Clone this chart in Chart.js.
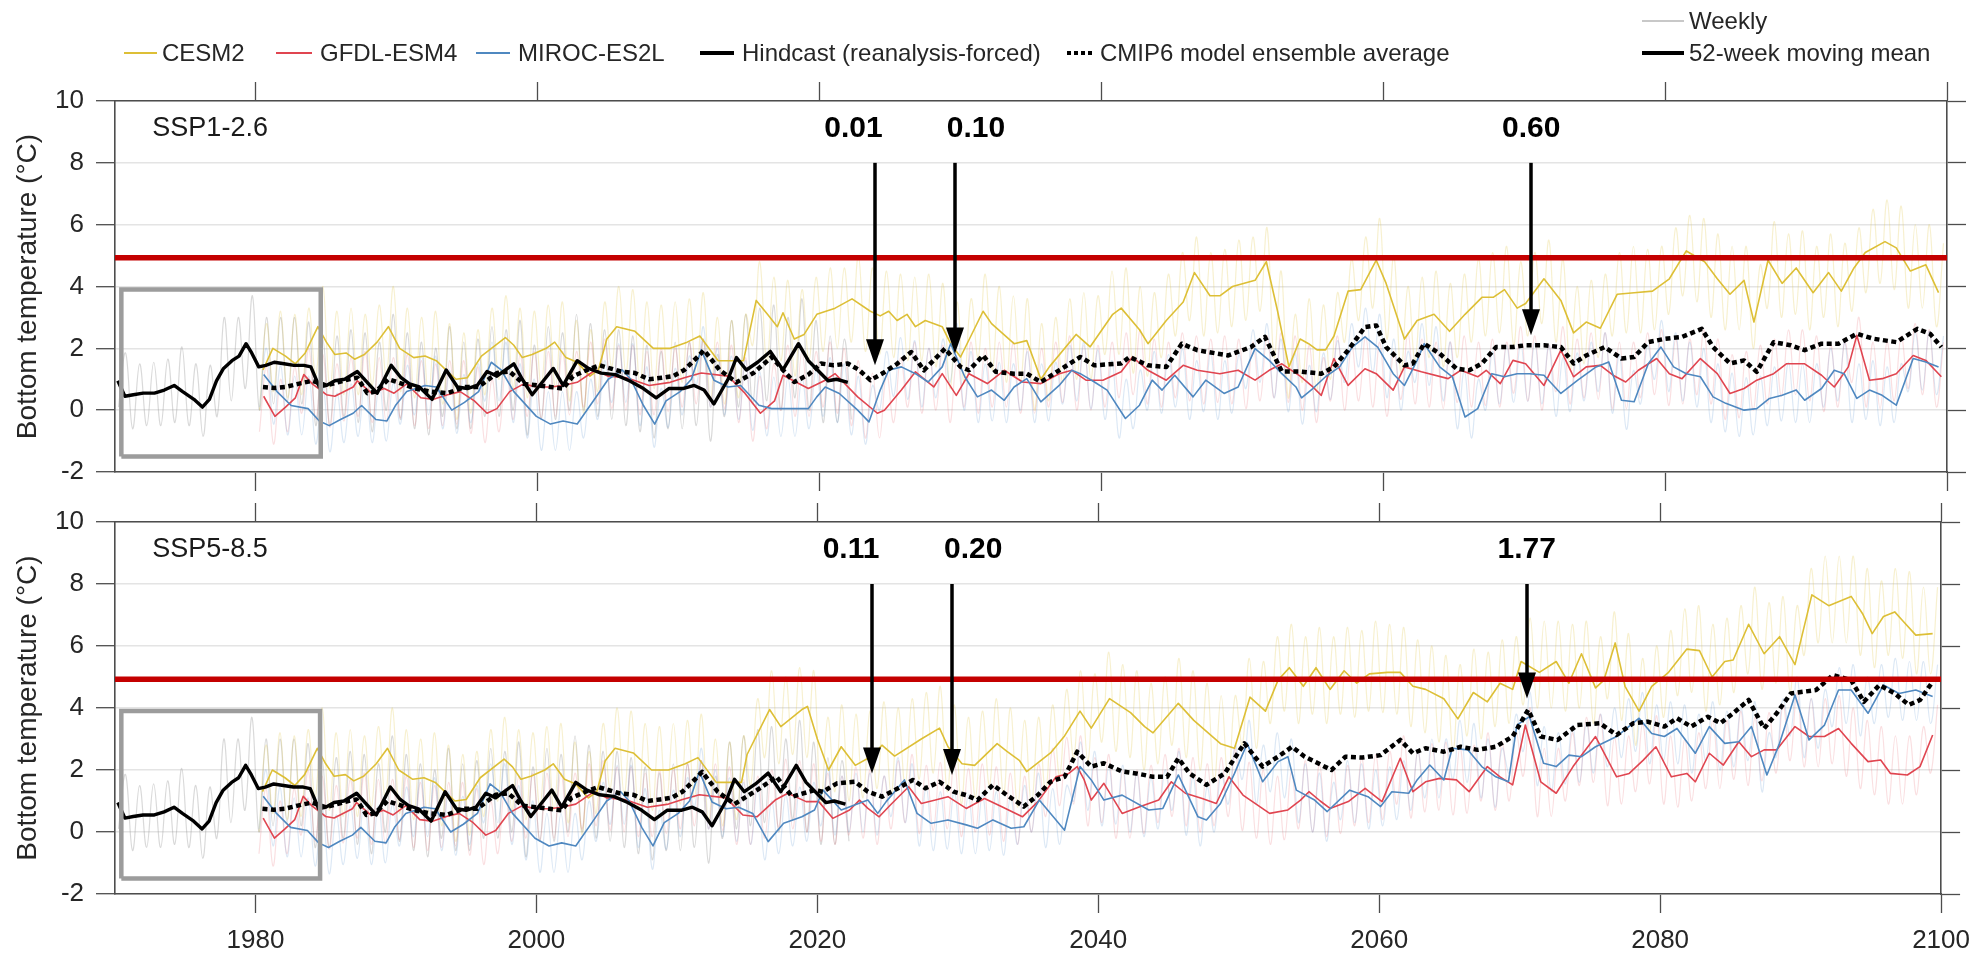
<!DOCTYPE html>
<html><head><meta charset="utf-8">
<script src="https://cdn.jsdelivr.net/npm/chart.js@4.4.1/dist/chart.umd.min.js"></script>
<style>
html,body{margin:0;padding:0;background:#fff;}
#wrap{position:relative;width:1982px;height:954px;overflow:hidden;font-family:'Liberation Sans',Arial,sans-serif;color:#262626;}
canvas{position:absolute;left:0;top:0;}
.lg{position:absolute;font-size:24px;line-height:28px;white-space:nowrap;}
.ln{position:absolute;}
</style></head><body><div id="wrap">
<canvas id="c1" width="1982" height="954"></canvas>
<canvas id="c2" width="1982" height="954"></canvas>
<div class="ln" style="left:124px;top:52px;width:33px;height:2px;background:#DDBF36"></div><div class="lg" style="left:162px;top:39px">CESM2</div>
<div class="ln" style="left:276px;top:52px;width:36px;height:2px;background:#E04550"></div><div class="lg" style="left:320px;top:39px">GFDL-ESM4</div>
<div class="ln" style="left:476px;top:52px;width:34px;height:2px;background:#4F88C0"></div><div class="lg" style="left:518px;top:39px">MIROC-ES2L</div>
<div class="ln" style="left:700px;top:51px;width:34px;height:4px;background:#000"></div><div class="lg" style="left:742px;top:39px">Hindcast (reanalysis-forced)</div>
<div class="ln" style="left:1067px;top:51px;width:28px;height:4px;background:repeating-linear-gradient(90deg,#000 0 4px,transparent 4px 7px)"></div><div class="lg" style="left:1100px;top:39px">CMIP6 model ensemble average</div>
<div class="ln" style="left:1642px;top:20px;width:42px;height:1.5px;background:#c8c8c8"></div><div class="lg" style="left:1689px;top:7px">Weekly</div>
<div class="ln" style="left:1642px;top:51px;width:42px;height:4px;background:#000"></div><div class="lg" style="left:1689px;top:39px">52-week moving mean</div>
</div>
<script>
// ---------------- DATA ----------------
const xTickValues = [1980, 2000, 2020, 2040, 2060, 2080, 2100];
const yTickValues = [-2, 0, 2, 4, 6, 8, 10];
const panelNames = ['SSP1-2.6', 'SSP5-8.5'];
const thresholdValue = 4.93;
const boxYears = [1970.45, 1984.6];
const boxValues = [-1.5, 3.9];
const arrowYears = [2023.9, 2029.6, 2070.5];
const labelYears = [2022.4, 2031.1, 2070.5];
const arrowTop = 8.0;
const labelValue = 9.1;
const tips126 = [1.45, 1.83, 2.42];
const tips585 = [1.89, 1.84, 4.31];
const labels126 = ['0.01', '0.10', '0.60'];
const labels585 = ['0.11', '0.20', '1.77'];

// Hindcast 52-week moving mean [year, value]
const hindMean = [[1970.2,0.95],[1970.7,0.45],[1971.3,0.5],[1972.0,0.55],[1972.8,0.55],[1973.5,0.65],[1974.2,0.8],[1974.8,0.6],[1975.6,0.35],[1976.2,0.1],[1976.7,0.35],[1977.2,0.95],[1977.7,1.35],[1978.3,1.6],[1978.8,1.75],[1979.3,2.15],[1979.7,1.85],[1980.2,1.4],[1980.7,1.45],[1981.3,1.55],[1982.0,1.5],[1982.7,1.45],[1983.4,1.45],[1983.9,1.4],[1984.5,0.75],[1985.0,0.8],[1985.6,0.95],[1986.3,1.0],[1987.2,1.25],[1987.8,0.95],[1988.6,0.55],[1989.6,1.45],[1990.3,1.05],[1990.9,0.85],[1991.6,0.75],[1992.5,0.35],[1993.5,1.3],[1994.3,0.75],[1995.0,0.7],[1995.7,0.8],[1996.4,1.25],[1997.1,1.1],[1998.3,1.5],[1998.9,1.0],[1999.6,0.5],[2000.4,0.95],[2001.1,1.35],[2001.8,0.8],[2002.8,1.6],[2003.6,1.35],[2004.5,1.2],[2005.5,1.15],[2006.5,0.95],[2007.5,0.7],[2008.4,0.4],[2009.3,0.7],[2010.3,0.7],[2011.1,0.8],[2011.8,0.65],[2012.5,0.2],[2013.5,1.0],[2014.1,1.7],[2014.8,1.3],[2015.6,1.55],[2016.5,1.9],[2017.4,1.3],[2018.5,2.15],[2019.2,1.6],[2020.6,0.95],[2021.2,1.0],[2022.0,0.9]];
// Hindcast weekly: seasonal lows (year+0.25) and highs (year+0.75), from 1970
const hindWeeklyLo = [0.1,-0.6,-0.5,-0.5,-0.4,-0.5,-0.85,-0.2,0.3,0.7, 0.0,0.2,0.3,0.2,-0.5,-0.5,-0.2,-0.4,-0.7,0.0, -0.3,-0.6,-0.8,-0.2,-0.6,-0.6,-0.2,-0.2,0.0,-0.8, -0.3,-0.3,0.0,0.0,-0.2,-0.3,-0.5,-0.7,-0.9,-0.6, -0.6,-0.5,-1.0,-0.2,0.1,0.2,0.3,0.0,0.4,0.0, -0.4,-0.4,-0.3];
const hindWeeklyHi = [1.85,1.5,1.55,1.65,2.05,1.5,1.45,3.0,3.0,3.7, 3.0,3.0,3.0,2.85,2.3,2.4,2.6,2.5,2.2,3.1, 2.5,2.2,2.0,2.7,2.2,2.3,2.7,2.6,2.9,2.1, 2.7,2.5,3.1,2.8,2.6,2.6,2.4,2.1,1.9,2.2, 2.2,2.3,1.8,2.9,3.1,3.3,3.4,3.0,3.6,2.9, 2.4,2.3];

// Historical (shared) moving means
const cesmHist = [[1980.5,1.3],[1981.2,2.0],[1982.1,1.75],[1982.8,1.5],[1983.5,1.85],[1984.4,2.7],[1985.0,2.2],[1985.6,1.8],[1986.4,1.85],[1987.0,1.65],[1987.7,1.8],[1988.6,2.2],[1989.4,2.7],[1990.2,2.0],[1991.2,1.7],[1992.0,1.75],[1992.8,1.6],[1993.6,1.25],[1994.2,1.0],[1995.0,1.05],[1996.0,1.75],[1997.7,2.35],[1998.3,2.1],[1998.9,1.7],[1999.6,1.8],[2000.6,2.0],[2001.2,2.2],[2002.0,1.7],[2002.8,1.55],[2003.7,1.1],[2004.3,1.3],[2004.9,2.3],[2005.6,2.7],[2006.9,2.55],[2008.2,2.0],[2009.4,2.0],[2010.6,2.2],[2011.5,2.4],[2012.8,1.6],[2014.6,1.6]];
const gfdlHist = [[1980.55,0.45],[1981.35,-0.2],[1982.1,0.1],[1982.8,0.4],[1983.4,1.15],[1984.0,0.85],[1985.0,0.5],[1985.6,0.45],[1986.9,0.75],[1987.2,0.95],[1988.2,0.55],[1989.1,0.7],[1989.8,0.55],[1990.7,0.85],[1991.7,0.4],[1992.6,0.35],[1993.6,0.5],[1994.5,0.6],[1995.5,0.3],[1996.4,-0.1],[1997.1,0.05],[1998.0,0.6],[1999.0,0.85],[1999.9,0.75],[2000.9,0.75],[2001.8,0.8],[2002.8,0.9],[2004.1,1.3],[2005.0,1.1],[2006.3,1.05],[2007.9,0.8],[2009.4,0.9],[2010.4,1.05],[2011.6,1.2],[2013.5,1.1],[2014.7,0.55]];
const mirocHist = [[1980.55,1.15],[1981.5,0.6],[1982.5,0.15],[1983.7,0.05],[1984.5,-0.35],[1985.2,-0.5],[1986.0,-0.3],[1986.9,-0.1],[1987.5,0.15],[1988.5,-0.3],[1989.3,-0.35],[1989.9,0.15],[1990.7,0.6],[1992.0,0.8],[1992.8,0.75],[1993.9,0.0],[1994.8,0.25],[1995.8,0.6],[1996.7,1.55],[1997.4,1.3],[1998.3,0.6],[1999.9,-0.2],[2000.9,-0.45],[2001.8,-0.35],[2002.8,-0.45],[2004.1,0.4],[2005.0,1.0],[2006.0,1.3],[2006.6,1.0],[2007.5,0.15],[2008.3,-0.45],[2009.1,0.3],[2010.1,0.6],[2010.9,1.0],[2011.6,1.95],[2012.5,0.97],[2013.5,0.75],[2014.4,0.8]];
const ensHist = [[1980.5,0.75],[1981.3,0.72],[1982.1,0.75],[1983.0,0.85],[1984.0,0.95],[1985.0,0.8],[1985.8,0.9],[1986.6,1.0],[1987.2,1.05],[1987.9,0.55],[1988.5,0.6],[1989.4,1.0],[1990.4,0.85],[1991.3,0.7],[1992.4,0.6],[1993.6,0.55],[1994.8,0.75],[1995.8,0.75],[1997.1,1.2],[1998.0,1.25],[1999.0,0.85],[2000.0,0.8],[2000.9,0.75],[2001.8,0.7],[2002.5,1.1],[2003.5,1.3],[2004.4,1.45],[2005.9,1.25],[2006.9,1.2],[2007.9,1.0],[2008.8,1.05],[2009.6,1.1],[2010.4,1.3],[2011.4,1.75],[2011.8,1.94],[2012.9,1.3],[2014.1,0.9]];

// SSP1-2.6 moving means
const cesm126 = [[2015.5,3.55],[2016.3,3.1],[2017.0,2.7],[2017.4,3.15],[2018.2,2.3],[2018.9,2.45],[2019.8,3.1],[2021.1,3.3],[2022.3,3.6],[2023.6,3.2],[2024.3,3.05],[2024.9,3.2],[2025.5,2.9],[2026.2,3.1],[2026.8,2.7],[2027.5,2.9],[2028.7,2.7],[2029.3,2.15],[2030.0,1.72],[2031.6,3.2],[2032.2,2.8],[2033.8,2.15],[2034.7,2.25],[2035.7,1.0],[2036.3,1.4],[2038.2,2.45],[2039.2,2.05],[2040.8,3.1],[2041.4,3.3],[2042.7,2.6],[2043.3,2.15],[2044.6,2.9],[2045.8,3.5],[2046.6,4.45],[2047.7,3.7],[2048.4,3.7],[2049.3,4.0],[2050.9,4.2],[2051.7,4.8],[2052.5,3.2],[2053.3,1.4],[2054.1,2.3],[2054.7,2.15],[2055.3,1.95],[2055.9,1.95],[2056.5,2.4],[2057.5,3.85],[2058.4,3.9],[2059.5,4.85],[2060.2,4.1],[2061.5,2.3],[2062.4,2.9],[2063.6,3.1],[2064.7,2.55],[2065.8,3.1],[2067.0,3.65],[2067.8,3.65],[2068.6,3.9],[2069.5,3.3],[2070.1,3.45],[2071.4,4.25],[2072.6,3.55],[2073.5,2.5],[2074.4,2.85],[2075.4,2.65],[2076.6,3.75],[2077.8,3.8],[2079.1,3.85],[2080.3,4.25],[2081.5,5.15],[2082.8,4.8],[2083.7,4.25],[2084.6,3.75],[2085.6,4.2],[2086.3,2.85],[2087.3,4.85],[2088.3,4.1],[2089.3,4.6],[2090.5,3.8],[2091.6,4.45],[2092.5,3.85],[2093.4,4.6],[2094.2,5.1],[2095.6,5.45],[2096.4,5.25],[2097.4,4.5],[2098.5,4.7],[2099.4,3.8]];
const gfdl126 = [[2015.8,-0.1],[2016.8,0.3],[2017.4,1.13],[2019.2,0.7],[2020.4,0.97],[2021.1,1.18],[2022.7,0.43],[2024.1,-0.1],[2024.6,0.0],[2025.8,0.65],[2026.8,1.24],[2028.1,0.75],[2028.7,1.18],[2029.7,0.48],[2030.6,1.18],[2031.9,0.86],[2033.1,1.29],[2034.4,0.91],[2035.7,0.86],[2037.0,1.18],[2037.9,1.29],[2038.9,0.97],[2040.1,0.97],[2041.4,1.24],[2042.2,1.72],[2043.3,1.29],[2044.6,0.97],[2045.8,1.45],[2046.8,1.29],[2048.4,1.18],[2049.7,1.29],[2050.9,0.97],[2051.9,1.29],[2052.8,1.5],[2054.1,1.1],[2055.0,0.75],[2055.6,0.48],[2056.5,1.67],[2057.5,0.8],[2058.7,1.34],[2059.5,1.18],[2060.7,0.65],[2061.5,1.4],[2062.7,1.24],[2064.6,1.02],[2065.5,1.29],[2066.7,1.08],[2067.3,1.29],[2068.3,0.86],[2069.2,1.61],[2070.1,1.5],[2071.4,0.8],[2072.6,1.94],[2073.5,1.08],[2074.4,1.4],[2075.4,1.45],[2076.3,1.13],[2077.2,0.91],[2078.1,1.29],[2079.4,1.67],[2080.3,1.18],[2081.2,1.02],[2082.5,1.67],[2083.7,1.18],[2084.6,0.54],[2085.6,0.7],[2086.5,0.97],[2087.7,1.18],[2088.6,1.5],[2089.9,1.5],[2091.1,1.13],[2092.0,0.75],[2093.0,1.4],[2093.6,2.42],[2094.5,0.97],[2095.4,1.02],[2096.4,1.18],[2097.6,1.77],[2098.5,1.61],[2099.6,1.08]];
const miroc126 = [[2015.7,0.16],[2016.6,0.05],[2017.9,0.05],[2019.2,0.05],[2019.8,0.43],[2020.4,0.75],[2021.4,0.54],[2022.7,0.0],[2023.5,-0.38],[2024.3,0.65],[2024.9,1.29],[2025.8,1.4],[2026.8,1.18],[2027.7,0.91],[2028.7,1.4],[2029.3,2.15],[2030.3,1.08],[2031.2,0.43],[2032.2,0.65],[2033.1,0.32],[2033.8,0.75],[2034.7,1.02],[2035.7,0.27],[2037.0,0.8],[2037.9,1.29],[2038.5,1.18],[2039.5,0.91],[2040.4,0.65],[2041.7,-0.27],[2042.7,0.16],[2043.6,0.97],[2044.3,0.65],[2045.2,1.13],[2046.5,0.43],[2047.4,0.97],[2048.7,0.54],[2049.7,0.75],[2050.9,1.99],[2051.9,1.61],[2052.8,1.18],[2053.8,0.75],[2054.2,0.4],[2055.0,0.7],[2055.9,1.08],[2056.9,1.4],[2057.8,2.04],[2058.7,2.37],[2059.6,2.04],[2060.7,1.18],[2061.5,0.8],[2062.4,1.61],[2062.9,2.15],[2064.0,1.4],[2064.9,1.08],[2065.8,-0.22],[2066.7,0.05],[2067.7,1.18],[2068.6,1.08],[2069.5,1.18],[2070.4,1.18],[2071.4,1.13],[2072.6,0.54],[2073.8,0.97],[2075.1,1.4],[2076.0,1.56],[2076.9,0.32],[2077.8,0.27],[2078.8,1.5],[2079.7,2.04],[2080.6,1.4],[2081.5,1.18],[2082.5,1.08],[2083.4,0.43],[2084.3,0.22],[2085.6,0.0],[2086.5,0.05],[2087.4,0.38],[2088.3,0.48],[2089.3,0.65],[2089.9,0.32],[2091.1,0.7],[2092.0,1.29],[2092.7,1.18],[2093.6,0.38],[2094.5,0.65],[2095.4,0.48],[2096.4,0.16],[2097.6,1.67],[2098.5,1.56],[2099.4,1.4]];
const ens126 = [[2015.3,1.2],[2016.6,1.72],[2017.4,1.3],[2018.2,0.91],[2019.2,1.15],[2020.1,1.51],[2021.0,1.45],[2022.0,1.51],[2022.8,1.3],[2023.6,0.97],[2024.5,1.2],[2025.5,1.5],[2026.5,1.88],[2027.4,1.29],[2028.9,1.99],[2030.0,1.4],[2030.6,1.29],[2031.6,1.77],[2032.5,1.24],[2033.8,1.18],[2034.7,1.18],[2035.7,0.91],[2037.0,1.29],[2038.5,1.72],[2039.5,1.45],[2041.4,1.51],[2042.0,1.72],[2043.3,1.45],[2044.6,1.4],[2045.7,2.15],[2046.8,1.94],[2049.0,1.77],[2050.6,2.04],[2051.6,2.37],[2052.8,1.25],[2054.1,1.25],[2055.6,1.18],[2056.5,1.4],[2057.5,1.94],[2058.7,2.69],[2059.5,2.74],[2060.2,2.04],[2061.5,1.45],[2062.1,1.51],[2062.9,2.15],[2064.0,1.83],[2065.2,1.34],[2066.1,1.29],[2067.0,1.51],[2068.0,2.04],[2069.2,2.04],[2070.1,2.1],[2071.4,2.1],[2072.6,2.04],[2073.5,1.51],[2074.4,1.77],[2075.7,2.04],[2076.9,1.67],[2077.8,1.72],[2078.8,2.2],[2080.0,2.31],[2081.2,2.37],[2082.6,2.63],[2083.4,2.04],[2084.6,1.51],[2085.6,1.61],[2086.5,1.24],[2087.7,2.2],[2088.9,2.1],[2089.9,1.94],[2091.1,2.15],[2092.3,2.15],[2093.6,2.47],[2094.8,2.31],[2096.4,2.2],[2097.9,2.63],[2098.8,2.47],[2099.6,2.04]];

// SSP5-8.5 moving means
const cesm585 = [[2015.0,2.5],[2016.6,3.95],[2017.4,3.4],[2018.9,3.95],[2019.3,4.05],[2020.0,3.0],[2020.8,2.0],[2021.7,2.75],[2022.7,2.15],[2023.9,2.45],[2024.6,2.8],[2025.5,2.45],[2027.4,3.0],[2028.7,3.35],[2029.3,2.75],[2030.3,2.2],[2031.2,2.15],[2032.8,2.85],[2033.5,2.6],[2034.4,2.3],[2034.9,1.95],[2036.6,2.55],[2037.6,3.1],[2038.7,3.9],[2039.5,3.35],[2040.8,4.3],[2042.3,3.85],[2043.3,3.4],[2043.9,3.2],[2045.7,4.15],[2046.8,3.6],[2048.7,2.85],[2049.7,2.7],[2050.8,4.35],[2051.9,3.9],[2052.8,4.9],[2053.6,5.3],[2054.6,4.7],[2055.5,5.3],[2056.5,4.6],[2057.5,5.2],[2058.4,4.8],[2059.3,5.1],[2060.6,5.15],[2061.5,5.15],[2062.4,4.7],[2063.3,4.6],[2064.6,4.3],[2065.6,3.65],[2066.7,4.5],[2067.7,4.2],[2068.6,4.8],[2069.5,4.6],[2070.1,5.5],[2071.4,5.15],[2072.6,5.5],[2073.5,4.8],[2074.4,5.75],[2075.4,4.65],[2076.0,4.9],[2076.8,6.1],[2077.5,4.7],[2078.5,3.9],[2079.4,4.7],[2080.6,5.15],[2081.9,5.9],[2082.8,5.85],[2083.7,5.0],[2084.6,5.5],[2085.2,5.55],[2086.3,6.7],[2087.4,5.75],[2088.5,6.3],[2089.6,5.4],[2090.8,7.65],[2092.0,7.3],[2093.6,7.6],[2094.4,7.05],[2095.1,6.4],[2095.9,6.95],[2096.7,7.1],[2097.3,6.8],[2098.2,6.35],[2099.4,6.4]];
const gfdl585 = [[2015.7,0.49],[2017.0,1.03],[2017.9,1.25],[2019.2,0.98],[2020.1,0.98],[2021.1,0.44],[2022.3,0.71],[2023.0,1.03],[2023.6,0.76],[2024.4,0.49],[2025.2,0.87],[2026.5,1.46],[2027.4,0.92],[2028.4,1.03],[2029.3,1.14],[2030.6,0.76],[2031.9,1.08],[2033.1,0.82],[2034.6,0.49],[2035.7,0.98],[2037.0,1.78],[2037.9,1.89],[2038.5,2.11],[2039.0,1.68],[2039.5,1.03],[2040.4,1.57],[2041.7,0.6],[2043.0,0.82],[2044.3,1.03],[2045.2,1.62],[2046.2,1.25],[2047.4,1.08],[2048.4,0.92],[2049.3,1.78],[2050.3,1.19],[2052.2,0.6],[2053.5,0.71],[2054.4,1.03],[2055.0,1.3],[2055.8,1.0],[2056.5,0.76],[2057.8,0.98],[2059.0,1.41],[2060.2,0.98],[2061.5,2.38],[2062.4,1.3],[2063.3,1.62],[2064.3,1.73],[2065.5,1.68],[2066.4,1.3],[2067.7,2.11],[2068.6,1.78],[2069.5,1.52],[2070.4,3.45],[2071.5,1.62],[2072.6,1.25],[2073.8,2.11],[2075.4,3.08],[2076.9,1.78],[2077.8,1.89],[2078.8,2.32],[2079.7,2.75],[2080.8,1.78],[2081.9,1.89],[2082.5,1.62],[2083.5,2.54],[2084.5,2.16],[2085.6,2.91],[2086.5,2.43],[2087.4,2.65],[2088.3,2.65],[2089.6,3.4],[2090.6,3.08],[2091.7,3.08],[2092.7,3.34],[2093.6,2.86],[2094.8,2.27],[2095.7,2.32],[2096.4,1.89],[2097.6,1.84],[2098.5,2.11],[2099.4,3.13]];
const miroc585 = [[2015.4,0.6],[2016.5,-0.31],[2017.6,0.28],[2018.9,0.49],[2019.8,0.71],[2020.4,1.35],[2021.7,0.71],[2023.6,1.03],[2024.3,0.6],[2024.9,0.98],[2026.2,1.68],[2027.1,0.6],[2028.1,0.28],[2029.3,0.39],[2030.6,0.23],[2031.4,0.12],[2032.5,0.39],[2033.8,0.12],[2034.7,0.17],[2035.8,1.03],[2037.6,0.06],[2038.7,2.11],[2039.5,1.68],[2040.4,1.03],[2041.7,1.19],[2043.6,0.71],[2044.6,0.76],[2045.7,1.84],[2047.1,0.49],[2047.7,0.39],[2048.7,0.92],[2049.7,1.89],[2050.6,2.86],[2051.7,1.62],[2052.8,2.27],[2053.5,2.43],[2054.1,1.35],[2055.4,1.03],[2056.3,0.66],[2057.9,1.35],[2059.2,1.14],[2060.1,0.82],[2060.9,1.3],[2062.1,1.25],[2062.7,1.68],[2063.6,2.16],[2064.6,1.68],[2065.2,2.7],[2066.3,2.65],[2067.3,2.11],[2068.3,1.78],[2069.2,1.62],[2069.8,3.45],[2070.7,3.72],[2071.7,2.22],[2072.6,2.11],[2073.5,2.48],[2074.4,2.43],[2075.4,2.75],[2076.9,3.08],[2078.5,3.67],[2079.4,3.18],[2080.3,3.08],[2081.2,3.34],[2082.5,2.54],[2083.5,3.4],[2084.6,2.86],[2085.6,2.91],[2086.5,3.4],[2087.6,1.84],[2088.5,2.86],[2089.6,4.42],[2090.6,2.97],[2091.7,3.45],[2092.7,4.58],[2093.6,4.58],[2094.8,3.83],[2095.9,4.74],[2097.0,4.47],[2098.2,4.58],[2099.4,4.37]];
const ens585 = [[2015.7,1.35],[2017.1,1.78],[2018.2,1.14],[2019.8,1.35],[2020.4,1.3],[2021.4,1.57],[2022.7,1.62],[2023.6,1.3],[2024.6,1.14],[2025.5,1.35],[2026.8,1.68],[2027.7,1.41],[2028.7,1.62],[2029.7,1.3],[2030.6,1.19],[2031.4,1.03],[2032.5,1.52],[2033.5,1.19],[2034.7,0.82],[2035.7,1.19],[2036.6,1.62],[2037.6,1.78],[2038.5,2.59],[2039.5,2.11],[2040.4,2.22],[2041.7,1.95],[2042.7,1.89],[2043.9,1.78],[2044.9,1.78],[2045.7,2.38],[2046.5,1.89],[2047.7,1.52],[2049.0,1.89],[2050.4,2.86],[2051.7,2.11],[2052.8,2.43],[2053.8,2.75],[2054.7,2.43],[2056.6,2.0],[2057.6,2.43],[2058.8,2.4],[2060.1,2.48],[2061.5,2.97],[2062.4,2.54],[2063.3,2.7],[2064.6,2.59],[2065.8,2.75],[2067.0,2.65],[2068.3,2.75],[2069.5,3.08],[2070.6,3.94],[2071.5,3.08],[2072.7,2.97],[2074.1,3.45],[2075.7,3.51],[2076.9,3.13],[2078.1,3.51],[2079.1,3.56],[2080.3,3.4],[2081.2,3.67],[2082.2,3.4],[2083.4,3.72],[2084.3,3.51],[2085.2,3.83],[2086.3,4.26],[2087.4,3.34],[2088.3,3.83],[2089.3,4.47],[2091.1,4.58],[2092.3,5.06],[2093.6,4.9],[2094.5,4.2],[2095.6,4.74],[2096.7,4.47],[2097.7,4.1],[2098.5,4.26],[2099.4,4.85]];

// Weekly model series: seasonal lows (year+0.25) and highs (year+0.75); historical 1980-2014
const cesmHistLo = [0.0,0.6,0.4,0.5,1.1,0.7,0.5,0.5,0.8,1.1, 0.6,0.4,0.5,0.2,-0.3,-0.1,0.5,1.0,0.7,0.4, 0.8,0.7,0.3,-0.1,0.6,1.4,1.2,0.8,0.7,0.9, 0.9,1.1,0.3,0.2,0.4];
const cesmHistHi = [2.8,3.2,3.1,3.3,4.0,3.2,3.3,3.1,3.4,4.0, 3.3,3.0,3.2,2.8,2.5,2.6,3.3,3.7,3.3,3.2, 3.4,3.5,2.9,2.6,3.5,4.0,3.9,3.5,3.4,3.5, 3.6,3.8,3.0,2.9,3.1];
const gfdlHistLo = [-0.7,-1.1,-0.7,-0.1,-0.3,-0.55,-0.35,-0.2,-0.4,-0.4, -0.25,-0.5,-0.6,-0.5,-0.45,-0.75,-1.05,-0.7,-0.3,-0.2, -0.25,-0.2,-0.15,0.1,0.2,0.05,0.0,-0.15,-0.15,-0.05, 0.1,0.2,0.1,0.05,-0.4];
const gfdlHistHi = [1.4,1.0,1.4,2.0,1.8,1.5,1.7,1.9,1.7,1.7, 1.8,1.6,1.5,1.6,1.6,1.4,1.0,1.4,1.8,1.9, 1.9,1.9,1.9,2.2,2.3,2.1,2.1,1.9,2.0,2.0, 2.2,2.3,2.2,2.1,1.7];
const mirocHistLo = [0.1,-0.45,-0.8,-0.8,-1.1,-1.35,-1.05,-0.85,-1.05,-1.0, -0.45,-0.15,-0.15,-0.6,-0.75,-0.4,0.3,0.3,-0.4,-0.9, -1.3,-1.3,-1.3,-0.9,-0.3,0.25,0.25,-0.5,-1.2,-0.55, -0.15,0.8,0.1,-0.15,-0.3];
const mirocHistHi = [2.0,1.45,1.1,1.1,0.8,0.55,0.85,1.05,0.85,0.9, 1.45,1.75,1.75,1.3,1.15,1.5,2.2,2.2,1.5,1.0, 0.6,0.6,0.6,1.0,1.6,2.15,2.15,1.4,0.7,1.35, 1.75,2.7,2.0,1.75,1.6];
// SSP1-2.6 weekly 2015-2099
const cesm126Lo = [2.1,1.5,1.6,1.1,1.6,1.9,2.0,2.2,1.9,1.8, 1.7,1.6,1.6,1.4,0.7,0.9,1.7,1.3,0.9,0.9, 0.0,0.3,0.9,1.0,1.0,1.8,1.8,1.2,1.1,1.7, 2.4,2.9,2.4,2.5,2.7,2.9,3.2,1.7,0.4,0.9, 0.6,1.0,2.2,2.9,3.3,2.3,1.2,1.6,1.7,1.4, 1.7,2.2,2.4,2.5,2.1,2.4,2.8,2.2,1.3,1.5, 1.7,2.4,2.5,2.5,2.6,3.1,3.7,3.5,3.0,2.6, 2.6,2.0,3.3,3.0,3.1,2.6,3.0,2.7,3.2,3.8, 4.1,3.9,3.3,3.3,2.7];
const cesm126Hi = [4.8,4.3,4.2,3.9,4.3,4.6,4.6,5.0,4.6,4.5, 4.4,4.3,4.4,4.1,3.5,3.6,4.4,4.0,3.7,3.6, 2.8,3.0,3.6,3.8,3.7,4.5,4.6,4.0,3.8,4.4, 5.1,5.6,5.1,5.2,5.5,5.6,5.9,4.5,3.1,3.6, 3.4,3.8,4.9,5.6,6.2,5.0,4.0,4.3,4.5,4.1, 4.4,4.9,5.1,5.3,4.8,5.1,5.5,4.9,4.0,4.2, 4.4,5.1,5.3,5.2,5.3,5.9,6.3,6.2,5.7,5.3, 5.3,4.7,6.1,5.7,5.8,5.3,5.7,5.4,5.9,6.5, 6.8,6.6,6.0,6.0,5.4];
const gfdl126Lo = [-1.0,-0.6,0.0,-0.2,-0.2,0.1,-0.1,-0.5,-0.9,-0.9, -0.4,0.1,-0.1,0.0,-0.4,0.1,-0.1,0.1,0.1,-0.1, -0.1,0.1,0.25,0.0,0.0,0.1,0.4,0.5,0.2,0.1, 0.4,0.3,0.2,0.25,0.2,0.05,0.3,0.4,0.25,0.0, -0.4,0.3,0.0,0.3,0.1,-0.2,0.35,0.2,0.1,0.05, 0.25,0.1,0.15,0.1,0.55,0.3,0.0,0.6,0.2,0.4, 0.35,0.05,0.05,0.4,0.5,0.15,0.2,0.5,0.2,-0.3, -0.25,0.0,0.2,0.45,0.5,0.3,-0.05,0.1,0.9,0.1, 0.05,0.3,0.7,0.5,0.1];
const gfdl126Hi = [1.1,1.5,2.1,1.9,1.9,2.2,2.0,1.6,1.2,1.2, 1.7,2.2,2.0,2.1,1.7,2.2,2.0,2.2,2.2,2.0, 2.0,2.2,2.4,2.1,2.1,2.2,2.5,2.6,2.3,2.2, 2.5,2.4,2.3,2.4,2.3,2.2,2.4,2.5,2.4,2.1, 1.7,2.4,2.1,2.4,2.2,1.9,2.5,2.3,2.2,2.2, 2.4,2.2,2.3,2.2,2.7,2.4,2.1,2.7,2.3,2.5, 2.5,2.2,2.2,2.5,2.6,2.3,2.3,2.6,2.3,1.8, 1.9,2.1,2.3,2.6,2.6,2.4,2.1,2.2,3.0,2.2, 2.2,2.4,2.8,2.6,2.2];
const miroc126Lo = [-0.65,-0.83,-0.85,-0.85,-0.6,-0.2,-0.4,-0.8,-1.1,0.0, 0.45,0.35,0.1,0.4,0.9,0.0,-0.4,-0.35,-0.4,0.0, -0.4,-0.35,0.2,0.3,0.05,-0.3,-0.9,-0.6,0.0,-0.1, 0.1,-0.3,-0.05,-0.3,-0.1,0.7,0.9,0.4,-0.05,-0.45, -0.05,0.35,0.9,1.4,1.2,0.4,0.0,0.9,0.8,0.3, -0.6,-0.9,0.0,0.2,0.25,0.28,0.2,-0.2,-0.05,0.3, 0.6,-0.1,-0.62,0.2,1.0,0.6,0.3,0.1,-0.4,-0.7, -0.85,-0.8,-0.5,-0.35,-0.4,-0.4,0.1,0.3,-0.4,-0.3, -0.5,-0.4,0.6,0.65,0.5];
const miroc126Hi = [1.25,1.07,1.05,1.05,1.3,1.7,1.5,1.1,0.8,1.9, 2.35,2.25,2.0,2.3,2.8,1.9,1.5,1.55,1.5,1.9, 1.5,1.55,2.1,2.2,1.95,1.6,1.0,1.3,1.9,1.8, 2.0,1.6,1.85,1.6,1.8,2.6,2.8,2.3,1.85,1.45, 1.85,2.25,2.8,3.3,3.1,2.3,1.9,2.8,2.7,2.2, 1.3,1.0,1.9,2.1,2.15,2.18,2.1,1.7,1.85,2.2, 2.5,1.8,1.28,2.1,2.9,2.5,2.2,2.0,1.5,1.2, 1.05,1.1,1.4,1.55,1.5,1.5,2.0,2.2,1.5,1.6, 1.4,1.5,2.5,2.55,2.4];
// SSP5-8.5 weekly 2015-2099
const cesm585Lo = [1.5,2.4,2.2,2.5,2.4,0.9,1.3,1.0,1.1,1.4, 1.2,1.5,1.7,1.9,1.3,0.9,1.1,1.5,1.2,0.8, 0.9,1.3,1.8,2.4,2.3,2.9,2.6,2.4,2.0,2.2, 2.8,2.4,2.0,1.6,1.6,2.8,2.7,3.5,3.9,3.5, 3.8,3.5,3.8,3.7,3.9,3.85,3.8,3.4,3.2,2.9, 2.6,3.1,3.0,3.4,3.5,4.1,4.0,4.0,3.9,4.0, 3.5,4.3,3.6,2.8,3.2,3.7,4.4,4.5,3.9,4.1, 4.5,5.1,4.6,4.8,4.5,5.7,6.1,6.1,6.1,5.7, 5.3,5.7,5.6,5.1,5.1];
const cesm585Hi = [4.3,5.2,5.0,5.3,5.2,3.7,4.1,3.8,3.9,4.2, 4.0,4.3,4.5,4.7,4.1,3.7,3.9,4.3,4.0,3.6, 3.7,4.1,4.6,5.2,5.1,5.8,5.4,5.2,4.8,5.0, 5.6,5.2,4.8,4.4,4.4,5.6,5.5,6.3,6.7,6.3, 6.6,6.3,6.6,6.5,6.8,6.7,6.6,6.2,6.0,5.7, 5.4,5.9,5.8,6.2,6.3,6.9,6.8,6.8,6.7,6.8, 6.3,7.1,6.4,5.6,6.0,6.5,7.2,7.3,6.7,6.9, 7.3,7.9,7.4,7.6,7.3,8.5,8.9,8.9,8.9,8.5, 8.1,8.5,8.4,7.9,7.9];
const gfdl585Lo = [-0.4,-0.2,0.15,0.1,0.0,-0.3,-0.4,-0.1,-0.2,-0.4, 0.1,0.3,-0.05,0.05,0.1,-0.15,0.0,-0.1,-0.3,-0.4, 0.0,0.5,0.85,0.9,0.2,0.3,-0.2,-0.2,-0.05,0.3, 0.5,0.2,0.0,0.2,0.5,0.05,-0.2,-0.4,-0.25,0.1, 0.0,-0.15,-0.05,0.2,0.3,0.4,0.9,0.45,0.65,0.7, 0.55,0.6,1.0,0.7,1.0,1.8,0.5,0.5,1.0,1.5, 1.6,0.85,0.9,1.3,1.55,0.9,0.8,1.0,1.4,1.4, 1.7,1.5,1.65,1.9,2.3,2.1,2.1,2.2,1.8,1.4, 1.2,0.9,0.9,1.2,1.9];
const gfdl585Hi = [1.8,2.0,2.35,2.3,2.2,1.9,1.8,2.1,2.0,1.8, 2.3,2.5,2.15,2.25,2.3,2.05,2.2,2.1,1.9,1.8, 2.2,2.7,3.05,3.1,2.4,2.5,2.0,2.0,2.15,2.5, 2.7,2.4,2.2,2.4,2.7,2.25,2.0,1.8,1.95,2.3, 2.2,2.05,2.15,2.4,2.5,2.6,3.1,2.65,2.85,2.9, 2.75,2.8,3.2,2.9,3.2,4.0,2.7,2.7,3.2,3.7, 3.8,3.05,3.1,3.5,3.75,3.1,3.0,3.2,3.6,3.6, 3.9,3.7,3.85,4.1,4.5,4.3,4.3,4.4,4.0,3.6, 3.4,3.1,3.1,3.4,4.1];
const miroc585Lo = [-0.4,-0.9,-0.7,-0.45,-0.3,0.2,-0.1,0.0,0.0,-0.1, 0.5,0.3,-0.45,-0.6,-0.55,-0.7,-0.7,-0.6,-0.75,-0.4, 0.0,-0.5,-0.4,1.0,0.7,0.2,0.25,0.0,-0.15,0.1, 0.7,-0.1,-0.45,0.0,0.9,1.7,0.9,1.3,1.1,0.3, 0.0,-0.3,0.4,0.3,0.1,0.2,0.4,0.7,1.1,1.1, 1.7,1.6,1.1,0.8,1.9,2.6,1.5,1.3,1.55,1.6, 1.9,2.1,2.4,2.6,2.2,2.3,2.2,1.9,2.3,2.0, 2.1,2.3,1.3,2.4,3.1,2.4,2.7,3.4,3.5,3.1, 3.5,3.7,3.6,3.6,3.5];
const miroc585Hi = [1.5,1.0,1.2,1.45,1.6,2.1,1.8,1.9,1.9,1.8, 2.4,2.2,1.45,1.3,1.35,1.2,1.2,1.3,1.15,1.5, 1.9,1.4,1.5,2.9,2.6,2.1,2.15,1.9,1.75,2.0, 2.6,1.8,1.45,1.9,2.8,3.6,2.8,3.2,3.0,2.2, 1.9,1.6,2.3,2.2,2.0,2.1,2.3,2.6,3.0,3.0, 3.6,3.5,3.0,2.7,3.8,4.5,3.4,3.2,3.45,3.5, 3.8,4.0,4.3,4.5,4.1,4.2,4.1,3.8,4.2,3.9, 4.0,4.2,3.2,4.3,5.0,4.3,4.6,5.3,5.4,5.0, 5.4,5.6,5.5,5.5,5.4];

// ---------------- BUILD ----------------
const FONT = "'Liberation Sans', Arial, Helvetica, sans-serif";
Chart.defaults.font.family = FONT;
const P = arr => arr.map(p => ({x: p[0], y: p[1]}));
function seasonal(startYear, lo, hi) {
  const out = [];
  const n = Math.max(lo.length, hi.length);
  for (let i = 0; i < n; i++) {
    if (lo[i] !== undefined) out.push({x: startYear + i + 0.25, y: lo[i]});
    if (hi[i] !== undefined) out.push({x: startYear + i + 0.75, y: hi[i]});
  }
  return out;
}
const C = {
  cesm: '#DDBF36', gfdl: '#E04550', miroc: '#4F88C0',
  cesmW: 'rgba(226,196,70,0.26)', gfdlW: 'rgba(232,96,106,0.2)', mirocW: 'rgba(96,150,208,0.22)', hindW: 'rgba(150,150,150,0.36)'
};
function ln(data, color, width, order, extra) {
  return Object.assign({data, borderColor: color, borderWidth: width, pointRadius: 0, fill: false, tension: 0, order, borderJoinStyle: 'round'}, extra || {});
}
function buildDatasets(s) {
  const boxPts = [[boxYears[0], boxValues[0]], [boxYears[0], boxValues[1]], [boxYears[1], boxValues[1]], [boxYears[1], boxValues[0]], [boxYears[0], boxValues[0]]];
  return [
    ln(P([[1970, thresholdValue], [2100, thresholdValue]]), '#C40000', 5.5, 0),
    ln(P(boxPts), '#9C9C9C', 4.5, 1, {borderJoinStyle: 'miter'}),
    ln(P(ensHist.concat(s.ens)), '#000', 4.5, 2, {borderDash: [5, 3.5], borderCapStyle: 'butt'}),
    ln(P(hindMean), '#000', 3.4, 3),
    ln(P(mirocHist.concat(s.miroc)), C.miroc, 1.6, 4),
    ln(P(gfdlHist.concat(s.gfdl)), C.gfdl, 1.6, 5),
    ln(P(cesmHist.concat(s.cesm)), C.cesm, 1.6, 6),
    ln(seasonal(1980, mirocHistLo.concat(s.mirocLo), mirocHistHi.concat(s.mirocHi)), C.mirocW, 1.2, 7, {tension: 0.4}),
    ln(seasonal(1980, gfdlHistLo.concat(s.gfdlLo), gfdlHistHi.concat(s.gfdlHi)), C.gfdlW, 1.2, 8, {tension: 0.4}),
    ln(seasonal(1980, cesmHistLo.concat(s.cesmLo), cesmHistHi.concat(s.cesmHi)), C.cesmW, 1.2, 9, {tension: 0.4}),
    ln(seasonal(1970, hindWeeklyLo, hindWeeklyHi), C.hindW, 1.2, 10, {tension: 0.4})
  ];
}
const annotPlugin = {
  id: 'annot',
  afterDatasetsDraw(chart, args, o) {
    const {ctx} = chart; const x = chart.scales.x, y = chart.scales.y;
    ctx.save();
    ctx.fillStyle = '#1a1a1a';
    ctx.font = '27px ' + FONT; ctx.textAlign = 'left'; ctx.textBaseline = 'middle';
    ctx.fillText(o.panel, x.getPixelForValue(1972.65), y.getPixelForValue(9.12));
    ctx.fillStyle = '#000'; ctx.strokeStyle = '#000';
    o.tips.forEach((t, i) => {
      const px = Math.round(x.getPixelForValue(arrowYears[i]));
      const pTop = y.getPixelForValue(arrowTop), pTip = y.getPixelForValue(t);
      const hh = 26, hw = 18;
      ctx.lineWidth = 3.5;
      ctx.beginPath(); ctx.moveTo(px, pTop); ctx.lineTo(px, pTip - hh + 2); ctx.stroke();
      ctx.beginPath(); ctx.moveTo(px - hw / 2, pTip - hh); ctx.lineTo(px + hw / 2, pTip - hh); ctx.lineTo(px, pTip); ctx.closePath(); ctx.fill();
      ctx.font = 'bold 30px ' + FONT; ctx.textAlign = 'center'; ctx.textBaseline = 'middle';
      ctx.fillText(o.labels[i], x.getPixelForValue(labelYears[i]), y.getPixelForValue(labelValue));
    });
    ctx.restore();
  }
};
function makeChart(id, s, isBottom) {
  const dark = '#4d4d4d';
  const tickFont = {family: FONT, size: 26};
  const setX = sc => { sc.ticks = xTickValues.map(v => ({value: v})); };
  const setY = sc => { sc.ticks = yTickValues.map(v => ({value: v})); };
  return new Chart(document.getElementById(id), {
    type: 'line',
    data: {datasets: buildDatasets(s)},
    options: {
      responsive: false, animation: false, devicePixelRatio: 1, parsing: true,
      layout: {padding: 0, autoPadding: false},
      plugins: {legend: {display: false}, tooltip: {enabled: false}, annot: {panel: s.name, tips: s.tips, labels: s.labels}},
      scales: {
        x: {type: 'linear', position: 'bottom', min: 1970, max: 2100, afterBuildTicks: setX,
            afterFit: sc => { sc.height = isBottom ? 60 : 482; },
            grid: {drawOnChartArea: false, drawTicks: true, tickLength: 19, tickColor: dark, tickWidth: 1.3},
            border: {display: true, color: dark, width: 1.6},
            ticks: {display: isBottom, font: tickFont, color: '#262626', padding: 12, maxRotation: 0, autoSkip: false, callback: v => String(v)}},
        xTop: {type: 'linear', position: 'top', min: 1970, max: 2100, afterBuildTicks: setX,
            afterFit: sc => { sc.height = isBottom ? 522 : 101; },
            grid: {drawOnChartArea: false, drawTicks: true, tickLength: 19, tickColor: dark, tickWidth: 1.3},
            border: {display: true, color: dark, width: 1.6},
            ticks: {display: false}},
        y: {type: 'linear', position: 'left', min: -2, max: 10, afterBuildTicks: setY,
            afterFit: sc => { sc.width = 115; },
            grid: {color: '#e4e4e4', lineWidth: 1.4, drawTicks: true, tickLength: 19, tickColor: dark, tickWidth: 1.3},
            border: {display: true, color: dark, width: 1.6},
            ticks: {font: tickFont, color: '#262626', padding: 12, callback: v => String(v)},
            title: {display: true, text: 'Bottom temperature (°C)', font: {family: FONT, size: 28}, color: '#262626', padding: {top: 11, bottom: 0}}},
        yRight: {type: 'linear', position: 'right', min: -2, max: 10, afterBuildTicks: setY,
            afterFit: sc => { sc.width = 35; },
            grid: {drawOnChartArea: false, drawTicks: true, tickLength: 19, tickColor: dark, tickWidth: 1.3},
            border: {display: true, color: dark, width: 1.6},
            ticks: {display: false}}
      }
    },
    plugins: [annotPlugin]
  });
}
makeChart('c1', {name: panelNames[0], cesm: cesm126, gfdl: gfdl126, miroc: miroc126, ens: ens126,
  cesmLo: cesm126Lo, cesmHi: cesm126Hi, gfdlLo: gfdl126Lo, gfdlHi: gfdl126Hi, mirocLo: miroc126Lo, mirocHi: miroc126Hi,
  tips: tips126, labels: labels126}, false);
makeChart('c2', {name: panelNames[1], cesm: cesm585, gfdl: gfdl585, miroc: miroc585, ens: ens585,
  cesmLo: cesm585Lo, cesmHi: cesm585Hi, gfdlLo: gfdl585Lo, gfdlHi: gfdl585Hi, mirocLo: miroc585Lo, mirocHi: miroc585Hi,
  tips: tips585, labels: labels585}, true);
</script>
</body></html>
